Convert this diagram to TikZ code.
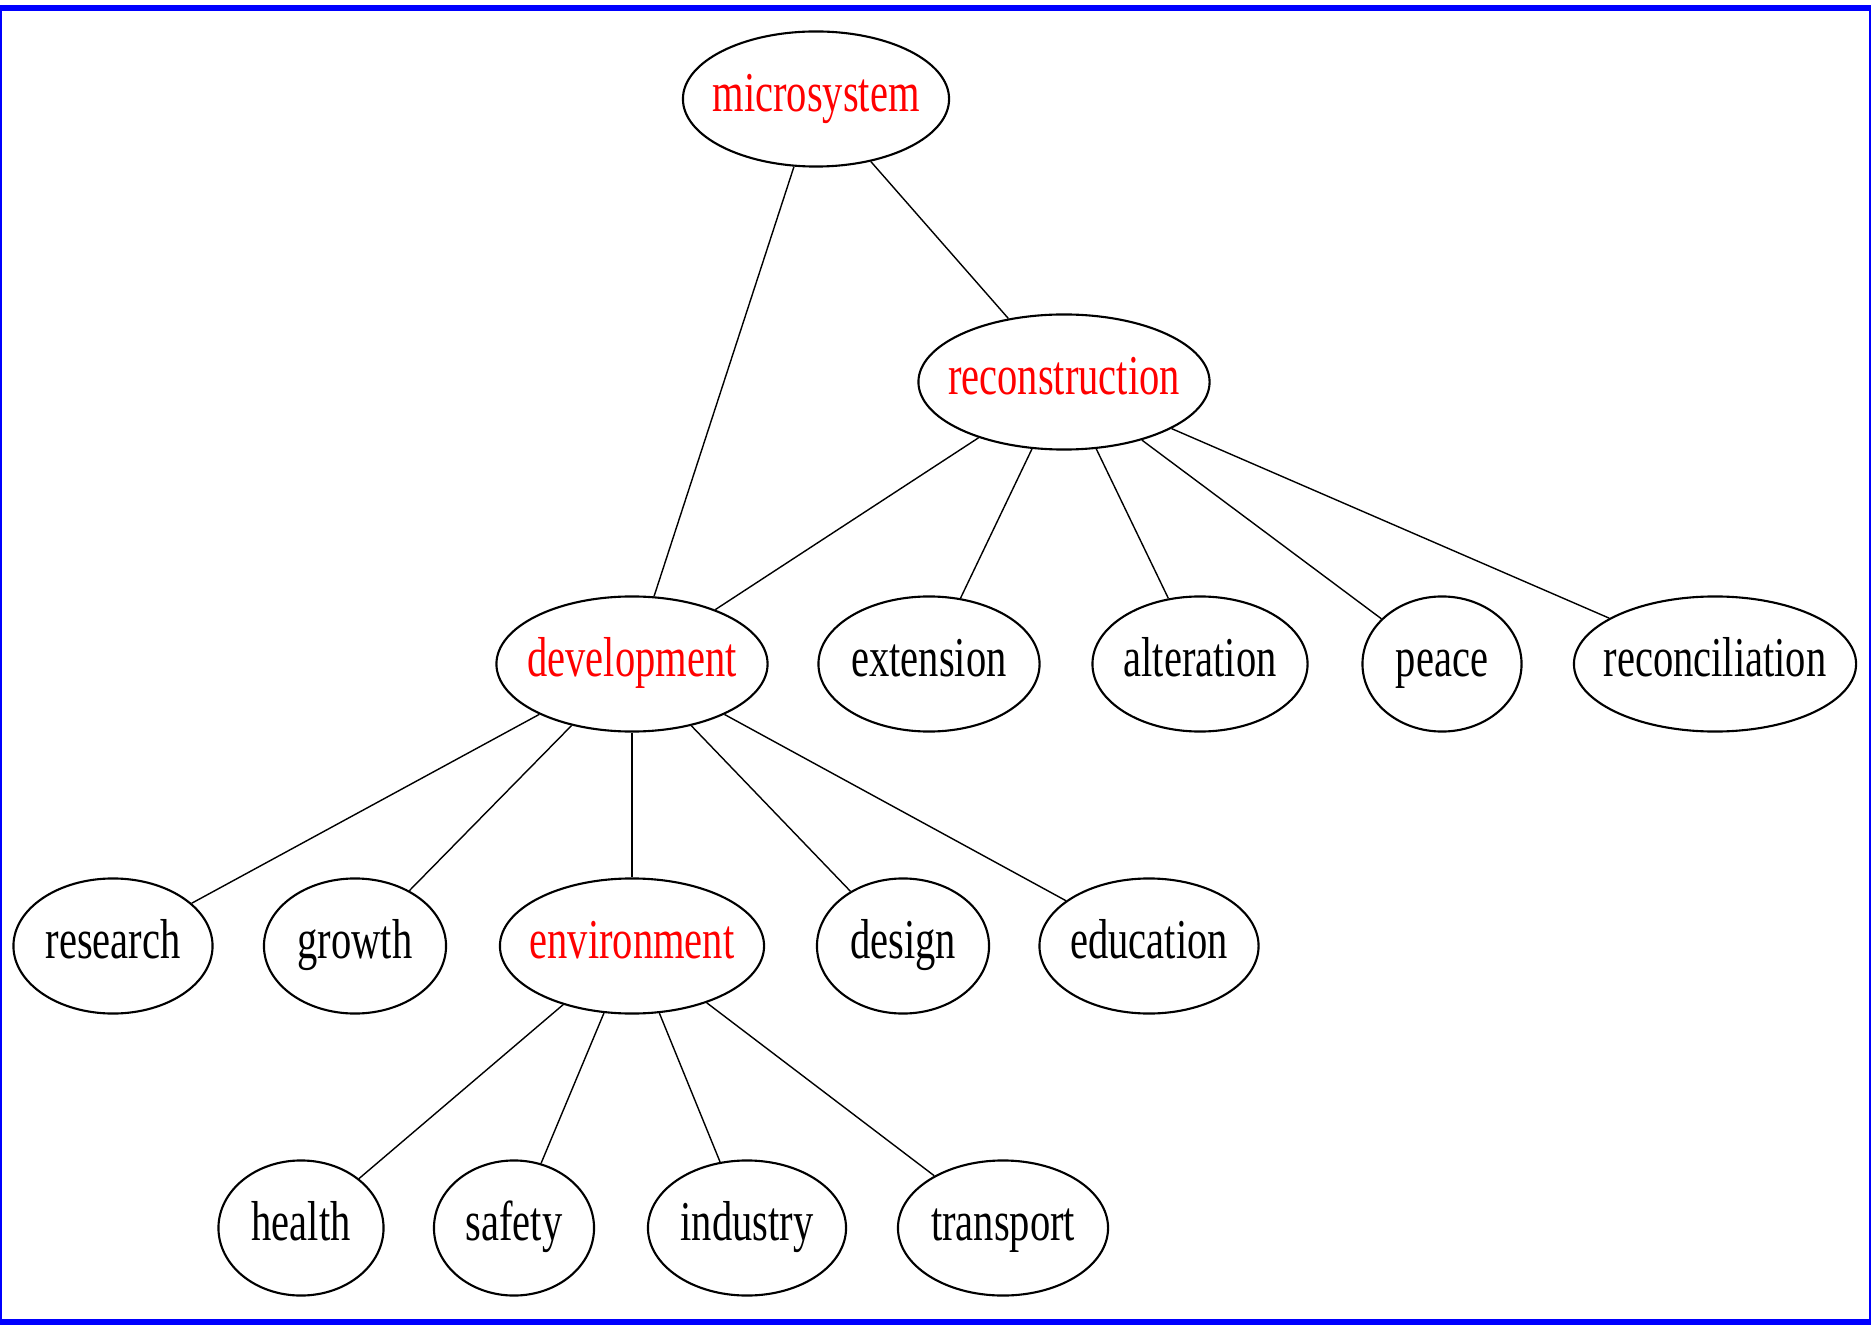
\documentclass[tikz,border=0pt]{standalone}
\usepackage{fontspec}
\setmainfont[FakeStretch=0.72]{Liberation Serif}
\usetikzlibrary{shapes.geometric}

\tikzset{
  term/.style={draw, ellipse, line width=0.6pt, inner sep=0pt,
    minimum height=1.35cm, text height=0.35cm, text depth=0.096cm,
    font=\fontsize{16}{18}\selectfont},
  hub/.style={term, text=red},
  link/.style={line width=0.4pt},
}
\newcommand{\lbl}[1]{\makebox[0pt]{#1}}

\begin{document}
\begin{tikzpicture}[x=0.01cm, y=-0.01cm]
  \useasboundingbox (0,0) rectangle (1873,1325);

  % frame
  \fill[blue] (0,5) rectangle (1871,11);
  \fill[blue] (0,1319) rectangle (1871,1325);
  \fill[blue] (0,5) rectangle (2,1325);
  \fill[blue] (1869,5) rectangle (1871,1325);

  % top levels
  \node[hub, minimum width=2.66cm] (micro) at (816,99) {\lbl{microsystem}};
  \node[hub, minimum width=2.91cm] (recon) at (1064,382) {\lbl{reconstruction}};

  \node[hub, minimum width=2.71cm] (dev) at (632,664) {\lbl{development}};
  \node[term, minimum width=2.21cm] (ext) at (929,664) {\lbl{extension}};
  \node[term, minimum width=2.15cm] (alt) at (1200,664) {\lbl{alteration}};
  \node[term, minimum width=1.59cm] (peace) at (1442,664) {\lbl{peace}};
  \node[term, minimum width=2.82cm] (recl) at (1715,664) {\lbl{reconciliation}};

  \node[term, minimum width=1.99cm] (res) at (113,946) {\lbl{research}};
  \node[term, minimum width=1.82cm] (grow) at (355,946) {\lbl{growth}};
  \node[hub, minimum width=2.64cm] (env) at (632,946) {\lbl{environment}};
  \node[term, minimum width=1.72cm] (des) at (903,946) {\lbl{design}};
  \node[term, minimum width=2.19cm] (edu) at (1149,946) {\lbl{education}};

  \node[term, minimum width=1.65cm] (hlth) at (301,1228) {\lbl{health}};
  \node[term, minimum width=1.60cm] (safe) at (514,1228) {\lbl{safety}};
  \node[term, minimum width=1.98cm] (ind) at (747,1228) {\lbl{industry}};
  \node[term, minimum width=2.10cm] (trans) at (1003,1228) {\lbl{transport}};

  % links
  \draw[link] (micro) -- (dev);
  \draw[link] (micro) -- (recon);
  \foreach \n in {dev,ext,alt,peace,recl}
    \draw[link] (recon) -- (\n);
  \foreach \n in {res,grow,env,des,edu}
    \draw[link] (dev) -- (\n);
  \foreach \n in {hlth,safe,ind,trans}
    \draw[link] (env) -- (\n);
\end{tikzpicture}
\end{document}
